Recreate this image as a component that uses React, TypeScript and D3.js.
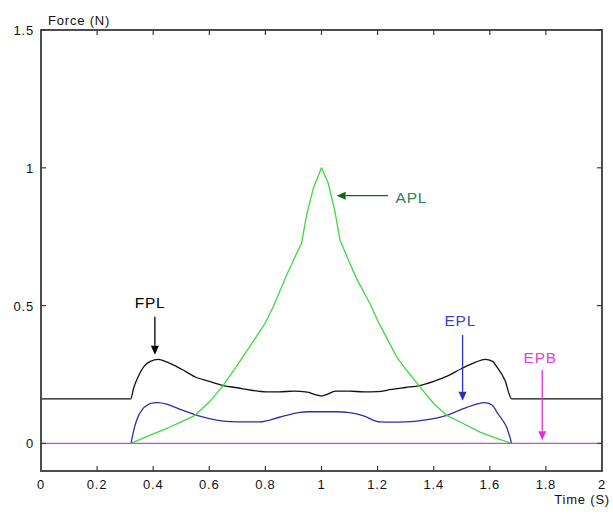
import React, { useEffect, useRef } from "react";
import * as d3 from "d3";

// curves (time in s, force in N)
const fplTime = [0, 0.32, 0.33, 0.346, 0.371, 0.39, 0.418, 0.45, 0.5, 0.55, 0.6, 0.65, 0.7, 0.75, 0.8, 0.85, 0.9, 0.95, 0.98, 1.0, 1.02, 1.05, 1.1, 1.15, 1.2, 1.25, 1.3, 1.35, 1.4, 1.45, 1.5, 1.55, 1.583, 1.61, 1.625, 1.654, 1.678, 2];
const fplForce = [0.162, 0.162, 0.2, 0.241, 0.284, 0.298, 0.305, 0.295, 0.27, 0.241, 0.225, 0.21, 0.202, 0.193, 0.187, 0.187, 0.19, 0.186, 0.176, 0.172, 0.178, 0.19, 0.19, 0.187, 0.188, 0.196, 0.203, 0.21, 0.225, 0.245, 0.272, 0.295, 0.305, 0.298, 0.278, 0.229, 0.162, 0.162];

const eplTime = [0.321, 0.33, 0.341, 0.364, 0.38, 0.4, 0.418, 0.45, 0.5, 0.556, 0.6, 0.65, 0.7, 0.78, 0.85, 0.923, 0.95, 1.0, 1.05, 1.1, 1.15, 1.208, 1.25, 1.3, 1.339, 1.4, 1.446, 1.505, 1.55, 1.583, 1.61, 1.625, 1.645, 1.66, 1.678];
const eplForce = [0, 0.045, 0.084, 0.127, 0.14, 0.147, 0.148, 0.142, 0.122, 0.102, 0.09, 0.081, 0.078, 0.078, 0.095, 0.113, 0.115, 0.115, 0.115, 0.112, 0.1, 0.078, 0.077, 0.078, 0.081, 0.09, 0.102, 0.126, 0.142, 0.148, 0.138, 0.114, 0.085, 0.059, 0];

const aplTime = [0.321, 0.4, 0.45, 0.5, 0.549, 0.6, 0.649, 0.7, 0.75, 0.799, 0.828, 0.876, 0.917, 0.929, 0.947, 0.971, 1.0, 1.024, 1.048, 1.066, 1.099, 1.125, 1.173, 1.203, 1.268, 1.3, 1.351, 1.4, 1.446, 1.5, 1.565, 1.62, 1.678];
const aplForce = [0, 0.035, 0.055, 0.078, 0.102, 0.15, 0.21, 0.284, 0.36, 0.436, 0.496, 0.611, 0.702, 0.726, 0.829, 0.926, 1.0, 0.944, 0.841, 0.738, 0.658, 0.598, 0.507, 0.44, 0.314, 0.27, 0.205, 0.145, 0.102, 0.075, 0.041, 0.02, 0];

const epbTime = [0, 2];
const epbForce = [0, 0];

const xTicks = [0, 0.2, 0.4, 0.6, 0.8, 1, 1.2, 1.4, 1.6, 1.8, 2];
const xTickLabels = ["0", "0.2", "0.4", "0.6", "0.8", "1", "1.2", "1.4", "1.6", "1.8", "2"];
const yTicks = [0, 0.5, 1, 1.5];
const yTickLabels = ["0", "0.5", "1", "1.5"];

const seriesNames = ["FPL", "EPL", "APL", "EPB"];

const W = 613;
const H = 516;
const FONT = "'Liberation Sans', Arial, Helvetica, sans-serif";

export default function App() {
  const ref = useRef<SVGSVGElement>(null);

  useEffect(() => {
    const svg = d3.select(ref.current);
    svg.selectAll("*").remove();

    const x = d3.scaleLinear().domain([0, 2]).range([41, 602]);
    const y = d3.scaleLinear().domain([-0.1, 1.5]).range([471, 30]);

    const series = [
      { name: seriesNames[0], t: fplTime, f: fplForce, color: "#111111", curve: d3.curveMonotoneX },
      { name: seriesNames[1], t: eplTime, f: eplForce, color: "#2b2fa8", curve: d3.curveMonotoneX },
      { name: seriesNames[2], t: aplTime, f: aplForce, color: "#3fd83f", curve: d3.curveLinear },
      { name: seriesNames[3], t: epbTime, f: epbForce, color: "#e040e0", curve: d3.curveLinear },
    ];

    // curves
    series.forEach(s => {
      const line = d3.line<[number, number]>()
        .x(d => x(d[0]))
        .y(d => y(d[1]))
        .curve(s.curve);
      const pts: [number, number][] = s.t.map((t, i) => [t, s.f[i]]);
      svg.append("path")
        .attr("d", line(pts))
        .attr("fill", "none")
        .attr("stroke", s.color)
        .attr("stroke-width", 1.3)
        .attr("stroke-linejoin", "round");
    });

    // axes box
    const [x0, x1] = x.range();
    const [y0, y1] = y.range();
    svg.append("rect")
      .attr("x", x0).attr("y", y1)
      .attr("width", x1 - x0).attr("height", y0 - y1)
      .attr("fill", "none")
      .attr("stroke", "#3a3a3a")
      .attr("stroke-width", 1.8);

    const tickLen = 5;
    const axisTxt = (sel: any) => sel
      .attr("font-family", FONT)
      .attr("font-size", 13)
      .attr("letter-spacing", 0.8)
      .attr("fill", "#111");

    // x ticks (bottom + top, inward)
    xTicks.forEach((t, i) => {
      if (i > 0 && i < xTicks.length - 1) {
        svg.append("line").attr("x1", x(t)).attr("x2", x(t)).attr("y1", y0).attr("y2", y0 - tickLen).attr("stroke", "#3a3a3a").attr("stroke-width", 1.2);
        svg.append("line").attr("x1", x(t)).attr("x2", x(t)).attr("y1", y1).attr("y2", y1 + tickLen).attr("stroke", "#3a3a3a").attr("stroke-width", 1.2);
      }
      svg.append("text")
        .attr("x", x(t))
        .attr("y", 489)
        .attr("text-anchor", "middle")
        .call(axisTxt)
        .text(xTickLabels[i]);
    });

    // y ticks (left + right, inward)
    yTicks.forEach((v, i) => {
      svg.append("line").attr("x1", x0).attr("x2", x0 + tickLen).attr("y1", y(v)).attr("y2", y(v)).attr("stroke", "#3a3a3a").attr("stroke-width", 1.2);
      svg.append("line").attr("x1", x1).attr("x2", x1 - tickLen).attr("y1", y(v)).attr("y2", y(v)).attr("stroke", "#3a3a3a").attr("stroke-width", 1.2);
      svg.append("text")
        .attr("x", 34)
        .attr("y", y(v) + 5)
        .attr("text-anchor", "end")
        .call(axisTxt)
        .text(yTickLabels[i]);
    });

    // axis titles
    svg.append("text").attr("x", 48).attr("y", 25).call(axisTxt).text("Force (N)");
    svg.append("text").attr("x", 610).attr("y", 504).attr("text-anchor", "end").call(axisTxt).text("Time (S)");

    // annotations: label + arrow (data coordinates)
    const notes = [
      { label: seriesNames[0], color: "#000000", arrowColor: "#000000", tx: 0.389, ty: 0.49, anchor: "middle", from: [0.406, 0.46], to: [0.406, 0.322] },
      { label: seriesNames[1], color: "#3a3fc4", arrowColor: "#2b2fb8", tx: 1.495, ty: 0.427, anchor: "middle", from: [1.503, 0.393], to: [1.503, 0.155] },
      { label: seriesNames[2], color: "#2f7f55", arrowColor: "#0b6b0b", tx: 1.264, ty: 0.871, anchor: "start", from: [1.237, 0.899], to: [1.054, 0.899] },
      { label: seriesNames[3], color: "#e040e0", arrowColor: "#e030e0", tx: 1.78, ty: 0.292, anchor: "middle", from: [1.787, 0.266], to: [1.787, 0.012] },
    ];

    notes.forEach(n => {
      svg.append("text")
        .attr("x", x(n.tx))
        .attr("y", y(n.ty))
        .attr("text-anchor", n.anchor)
        .attr("font-family", FONT)
        .attr("font-size", 15.5)
        .attr("letter-spacing", 0.8)
        .attr("fill", n.color)
        .text(n.label);

      const fx = x(n.from[0]), fy = y(n.from[1]);
      const txp = x(n.to[0]), typ = y(n.to[1]);
      const ang = Math.atan2(typ - fy, txp - fx);
      const headL = 9, headW = 4;
      const bx = txp - headL * Math.cos(ang), by = typ - headL * Math.sin(ang);
      svg.append("line")
        .attr("x1", fx).attr("y1", fy).attr("x2", bx).attr("y2", by)
        .attr("stroke", n.arrowColor).attr("stroke-width", 1.3);
      const px = -Math.sin(ang) * headW, py = Math.cos(ang) * headW;
      svg.append("path")
        .attr("d", `M${txp},${typ}L${bx + px},${by + py}L${bx - px},${by - py}Z`)
        .attr("fill", n.arrowColor);
    });
  }, []);

  return (
    <svg
      ref={ref}
      width={W}
      height={H}
      style={{ position: "absolute", left: 0, top: 0, background: "#fff" }}
    />
  );
}
